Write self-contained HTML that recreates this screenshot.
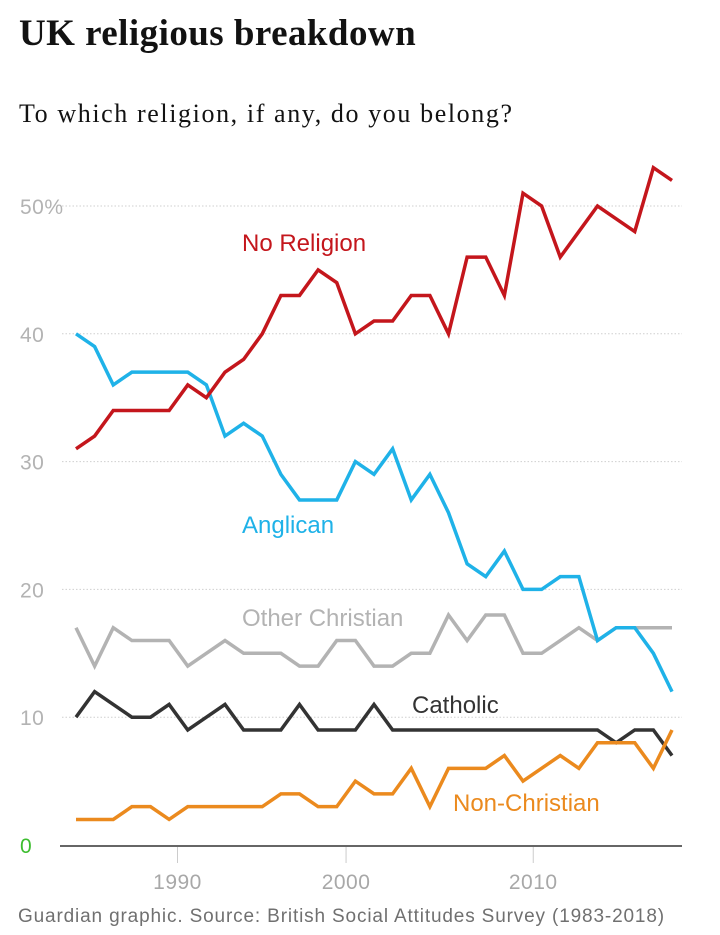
<!DOCTYPE html>
<html><head><meta charset="utf-8">
<style>
body{margin:0;background:#fff;width:720px;height:935px;overflow:hidden;font-family:"Liberation Sans",sans-serif}
h1{position:absolute;left:19px;top:12px;margin:0;font:bold 37px "Liberation Serif",serif;color:#121212;letter-spacing:0.45px;white-space:nowrap}
.sub{position:absolute;left:19px;top:99px;margin:0;font:26px "Liberation Serif",serif;color:#121212;letter-spacing:1.6px;white-space:nowrap}
.foot{position:absolute;left:18px;top:906px;font-size:19px;color:#707070;letter-spacing:0.85px;white-space:nowrap}
svg{position:absolute;left:0;top:0}
</style></head><body>
<h1>UK religious breakdown</h1>
<p class="sub">To which religion, if any, do you belong?</p>
<svg id="chart" width="720" height="935"></svg>
<div class="foot">Guardian graphic. Source: British Social Attitudes Survey (1983-2018)</div>
<script>
const noReligion=[31,32,34,34,34,34,36,35,37,38,40,43,43,45,44,40,41,41,43,43,40,46,46,43,51,50,46,48,50,49,48,53,52];
const anglican=[40,39,36,37,37,37,37,36,32,33,32,29,27,27,27,30,29,31,27,29,26,22,21,23,20,20,21,21,16,17,17,15,12];
const otherChristian=[17,14,17,16,16,16,14,15,16,15,15,15,14,14,16,16,14,14,15,15,18,16,18,18,15,15,16,17,16,17,17,17,17];
const catholic=[10,12,11,10,10,11,9,10,11,9,9,9,11,9,9,9,11,9,9,9,9,9,9,9,9,9,9,9,9,8,9,9,7];
const nonChristian=[2,2,2,3,3,2,3,3,3,3,3,4,4,3,3,5,4,4,6,3,6,6,6,7,5,6,7,6,8,8,8,6,9];
const yTicks=[0,10,20,30,40,50];
const xTickLabels=["1990","2000","2010"];
const xTickIdx=[5.45,14.5,24.55];
const svg=document.getElementById('chart');
const NS='http://www.w3.org/2000/svg';
const x=i=>76+i*(596/32);
const y=v=>845-v*12.78;
function mk(t,a){const e=document.createElementNS(NS,t);for(const k in a)e.setAttribute(k,a[k]);svg.appendChild(e);return e;}
yTicks.forEach(v=>{
  if(v>0){const g=mk('line',{x1:62,x2:682,y1:y(v),y2:y(v),stroke:'#cfcfcf','stroke-width':1,'stroke-dasharray':'1.5,2'});
  
  }
  const t=mk('text',{x:20,y:y(v)+8,fill:v===0?'#3dbd2f':'#b3b3b3','font-size':21,'font-family':'Liberation Sans, sans-serif','letter-spacing':'0.5'});
  t.textContent=v===50?'50%':String(v);
  
  
});
const ax=mk('line',{x1:60,x2:682,y1:846,y2:846,stroke:'#333','stroke-width':1.5});


xTickLabels.forEach((l,k)=>{
  const px=x(xTickIdx[k]);
  const tk=mk('line',{x1:px,x2:px,y1:847,y2:863,stroke:'#ccc','stroke-width':1});
  
  
  const t=mk('text',{x:px,y:889,fill:'#a8a8a8','font-size':21,'text-anchor':'middle','font-family':'Liberation Sans, sans-serif','letter-spacing':'0.5'});
  t.textContent=l;
  
  
});
const series=[
 ['other-christian',otherChristian,'#b3b3b3','Other Christian',242,626],
 ['catholic',catholic,'#333333','Catholic',412,713],
 ['non-christian',nonChristian,'#eb8a1e','Non-Christian',453,811],
 ['anglican',anglican,'#1fb2e8','Anglican',242,533],
 ['no-religion',noReligion,'#c4161c','No Religion',242,251]
];
series.forEach(s=>{
  const p=mk('polyline',{points:s[1].map((v,i)=>x(i)+','+y(v)).join(' '),fill:'none',stroke:s[2],'stroke-width':3.5,'stroke-linejoin':'miter'});
  
  
  const t=mk('text',{x:s[4],y:s[5],fill:s[2],'font-size':24,'font-family':'Liberation Sans, sans-serif'});
  t.textContent=s[3];
  
  
});
</script>
</body></html>
